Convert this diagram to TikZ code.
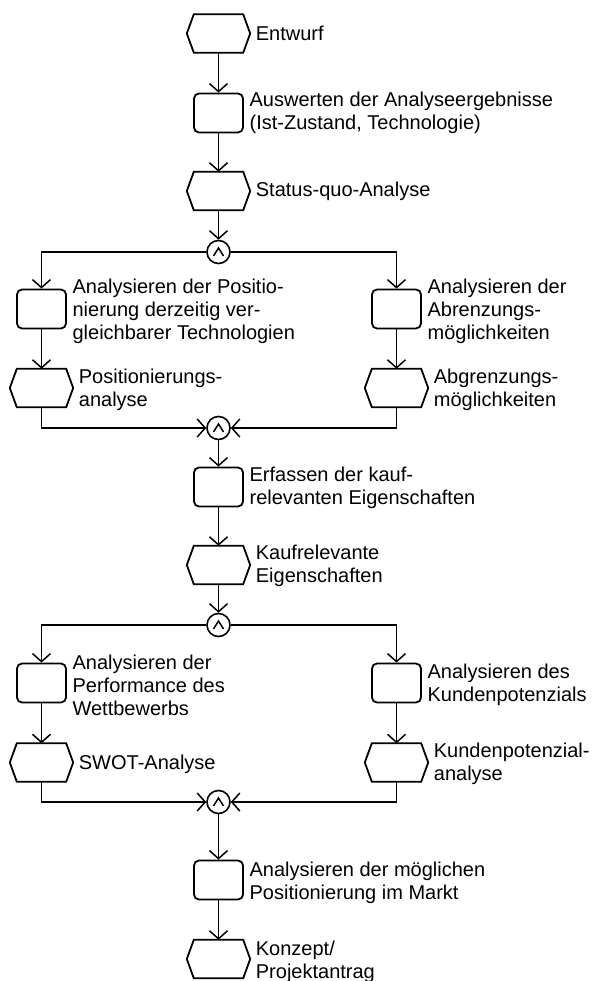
\documentclass[tikz,border=0pt]{standalone}
\usepackage{fontspec}
\setmainfont{Liberation Sans}
\usetikzlibrary{arrows.meta,calc}

\begin{document}
\begin{tikzpicture}[x=1pt,y=-1pt,
  flow/.style={line width=1.5pt, -{Straight Barb[length=8pt,width=18pt]}},
  evt/.style={minimum width=63pt, minimum height=38pt, inner sep=0pt},
  fn/.style={draw, line width=1.8pt, rounded corners=5pt, minimum width=49pt,
    minimum height=39pt, inner sep=0pt},
  andc/.style={draw, circle, line width=1.6pt, minimum size=23pt, inner sep=0pt},
  lbl/.style={anchor=west, align=left, inner sep=0pt,
    font=\fontsize{20pt}{23pt}\selectfont},
]
\useasboundingbox (0,0) rectangle (595,981);

% events (hexagon outlines are drawn below), functions and AND connectors
\node[evt] (e1) at (218.5,33.5) {};
\node[fn]  (f1) at (218.5,113) {};
\node[evt] (e2) at (218.5,191) {};
\node[andc] (a1) at (218.5,252) {};
\node[fn]  (f2) at (41.5,309) {};
\node[fn]  (f3) at (396.5,309) {};
\node[evt] (e3) at (41.5,388) {};
\node[evt] (e4) at (396.5,388) {};
\node[andc] (a2) at (218.5,428) {};
\node[fn]  (f4) at (218.5,487) {};
\node[evt] (e5) at (218.5,565) {};
\node[andc] (a3) at (218.5,625) {};
\node[fn]  (f5) at (41.5,683) {};
\node[fn]  (f6) at (396.5,683) {};
\node[evt] (e6) at (41.5,762.5) {};
\node[evt] (e7) at (396.5,762.5) {};
\node[andc] (a4) at (218.5,802) {};
\node[fn]  (f7) at (218.5,880) {};
\node[evt] (e8) at (218.5,959) {};

% hexagonal event outlines
\foreach \n in {e1,e2,e3,e4,e5,e6,e7,e8}
  \draw[line width=1.8pt]
    (\n.west) -- ($(\n.north west)+(7,0)$) -- ($(\n.north east)+(-7,0)$)
    -- (\n.east) -- ($(\n.south east)+(-7,0)$) -- ($(\n.south west)+(7,0)$) -- cycle;

% AND symbol inside the connectors
\foreach \n in {a1,a2,a3,a4}
  \draw[line width=1.5pt] ($(\n.center)+(-5,4)$) -- ($(\n.center)+(0,-4)$)
    -- ($(\n.center)+(5,4)$);

% labels
\node[lbl] (te1) at ($(e1.east)+(5.5,0)$) {Entwurf};
\node[lbl] (tf1) at ($(f1.east)+(5.5,0)$) {Auswerten der Analyseergebnisse\\(Ist-Zustand, Technologie)};
\node[lbl] (te2) at ($(e2.east)+(5.5,0)$) {Status-quo-Analyse};
\node[lbl] (tf2) at ($(f2.east)+(5.5,2)$) {Analysieren der Positio-\\nierung derzeitig ver-\\gleichbarer Technologien};
\node[lbl] (tf3) at ($(f3.east)+(5.5,2)$) {Analysieren der\\Abrenzungs-\\möglichkeiten};
\node[lbl] (te3) at ($(e3.east)+(5.5,2)$) {Positionierungs-\\analyse};
\node[lbl] (te4) at ($(e4.east)+(5.5,2)$) {Abgrenzungs-\\möglichkeiten};
\node[lbl] (tf4) at ($(f4.east)+(5.5,1)$) {Erfassen der kauf-\\relevanten Eigenschaften};
\node[lbl] (te5) at ($(e5.east)+(5.5,1)$) {Kaufrelevante\\Eigenschaften};
\node[lbl] (tf5) at ($(f5.east)+(5.5,2)$) {Analysieren der\\Performance des\\Wettbewerbs};
\node[lbl] (tf6) at ($(f6.east)+(5.5,2)$) {Analysieren des\\Kundenpotenzials};
\node[lbl] (te6) at ($(e6.east)+(5.5,2)$) {SWOT-Analyse};
\node[lbl] (te7) at ($(e7.east)+(5.5,1)$) {Kundenpotenzial-\\analyse};
\node[lbl] (tf7) at ($(f7.east)+(5.5,3)$) {Analysieren der möglichen\\Positionierung im Markt};
\node[lbl] (te8) at ($(e8.east)+(5.5,3)$) {Konzept/\\Projektantrag};

% control flow
\draw[flow] (e1) -- (f1);
\draw[flow] (f1) -- (e2);
\draw[flow] (e2) -- (a1);
\draw[flow] (a1.west) -| (f2.north);
\draw[flow] (a1.east) -| (f3.north);
\draw[flow] (f2) -- (e3);
\draw[flow] (f3) -- (e4);
\draw[flow] (e3.south) |- (a2.west);
\draw[flow] (e4.south) |- (a2.east);
\draw[flow] (a2) -- (f4);
\draw[flow] (f4) -- (e5);
\draw[flow] (e5) -- (a3);
\draw[flow] (a3.west) -| (f5.north);
\draw[flow] (a3.east) -| (f6.north);
\draw[flow] (f5) -- (e6);
\draw[flow] (f6) -- (e7);
\draw[flow] (e6.south) |- (a4.west);
\draw[flow] (e7.south) |- (a4.east);
\draw[flow] (a4) -- (f7);
\draw[flow] (f7) -- (e8);
\end{tikzpicture}
\end{document}
